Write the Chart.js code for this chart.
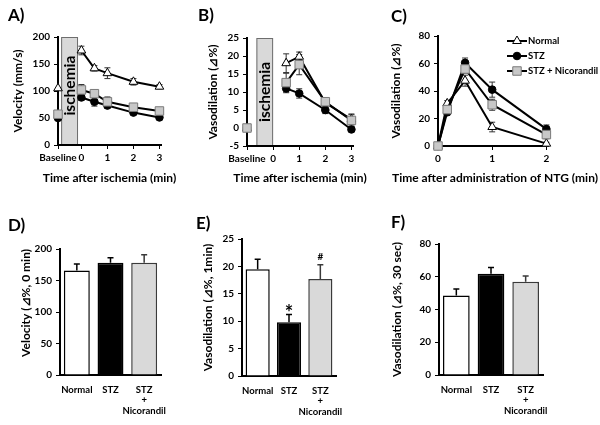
<!DOCTYPE html>
<html>
<head>
<meta charset="utf-8">
<script src="https://cdn.jsdelivr.net/npm/chart.js@4.4.1/dist/chart.umd.min.js"></script>
<style>
  body { margin: 0; background: #fff; }
  #fig { position: relative; width: 600px; height: 425px; overflow: hidden; background: #fff; }
  canvas { position: absolute; }
</style>
</head>
<body>
<div id="fig">
  <canvas id="panel-a" width="195" height="200" style="left:0;top:0"></canvas>
  <canvas id="panel-b" width="200" height="200" style="left:195px;top:0"></canvas>
  <canvas id="panel-c" width="215" height="200" style="left:385px;top:0"></canvas>
  <canvas id="panel-d" width="195" height="215" style="left:0;top:210px"></canvas>
  <canvas id="panel-e" width="200" height="215" style="left:195px;top:210px"></canvas>
  <canvas id="panel-f" width="215" height="215" style="left:385px;top:210px"></canvas>
</div>
<script>
const groups = ['Normal', 'STZ', 'STZ + Nicorandil'];
const barLabels = ['Normal', 'STZ', ['STZ', '+', 'Nicorandil']];

// A) velocity after ischemia (mm/s)
const aTimes = ['Baseline', 0, 0.5, 1, 2, 3];
const aNormal = [105, 175, 142, 133, 117, 108];
const aNormalErr = [0, 8, 5, 10, 6, 4];
const aStz = [50, 88, 80, 73, 60, 51];
const aStzErr = [4, 5, 8, 5, 4, 3];
const aNic = [57, 102, 95, 80, 70, 63];
const aNicErr = [4, 10, 6, 9, 5, 4];

// B) vasodilation after ischemia (%)
const bTimes = ['Baseline', 0.5, 1, 2, 3];
const bNormal = [0, 18, 19.8, 7, 2.4];
const bNormalErr = [0, 2.6, 1.3, 1, 1.5];
const bStz = [0, 11, 9.6, 5, -0.4];
const bStzErr = [0, 1.2, 1.3, 1, 0.6];
const bNic = [0, 12.6, 17.6, 7.3, 2.1];
const bNicErr = [0, 2.6, 2.8, 1, 1.6];

// C) vasodilation after NTG (%)
const cTimes = [0, 0.17, 0.5, 1, 2];
const cNormal = [0, 31, 47.5, 13.8, 1.7];
const cNormalErr = [0, 2, 4, 3.5, 1];
const cStz = [0, 24.5, 60.5, 41, 12.3];
const cStzErr = [0, 2, 3.5, 5.5, 3];
const cNic = [0, 26.5, 56, 30, 8.3];
const cNicErr = [0, 2, 3, 4, 3];

// D) velocity at 0 min
const dValues = [166, 178, 178];
const dErrors = [10, 8, 13];

// E) vasodilation at 1 min
const eValues = [19.5, 9.8, 17.7];
const eErrors = [1.8, 1.4, 2.6];
const eMarks = ['', '*', '#'];

// F) vasodilation at 30 sec
const fValues = [48.5, 61.8, 57];
const fErrors = [4, 3.8, 3.5];

const FONT = 'Lato';
Chart.defaults.font.family = FONT;
Chart.defaults.font.weight = 'bold';
Chart.defaults.color = '#000';

const markers = [
  { pointStyle: 'triangle', pointRadius: 5, pointBackgroundColor: '#fff', pointBorderColor: '#000', pointBorderWidth: 1 },
  { pointStyle: 'circle', pointRadius: 3.8, pointBackgroundColor: '#000', pointBorderColor: '#000', pointBorderWidth: 1 },
  { pointStyle: 'rect', pointRadius: 6, pointBackgroundColor: '#c8c8c8', pointBorderColor: '#7a7a7a', pointBorderWidth: 1 }
];
const barFill = ['#ffffff', '#000000', '#d9d9d9'];
const barEdge = ['#000000', '#000000', '#3a3a3a'];

// turn a time list into points; the baseline point is cut off from the rest of the line
function points(times, values, errors, base) {
  const pts = [];
  times.forEach((t, i) => {
    if (t === 'Baseline') {
      pts.push({ x: base, y: values[i], err: errors[i] });
      pts.push({ x: base + 0.01, y: null });
    } else {
      pts.push({ x: t, y: values[i], err: errors[i] });
    }
  });
  return pts;
}

function lineSets(times, series, base) {
  return series.map((s, i) => Object.assign({
    label: groups[i],
    data: points(times, s[0], s[1], base),
    borderColor: '#000',
    borderWidth: 2,
    tension: 0,
    spanGaps: false,
    clip: false,
    order: 2 - i
  }, markers[i]));
}

function valueAxis(min, max, step, width, title, titlePad, align) {
  return {
    min: min, max: max,
    ticks: { stepSize: step, padding: 4, font: { size: 10 } },
    grid: { drawOnChartArea: false, tickLength: 4, color: '#000' },
    border: { color: '#000', width: 2 },
    title: { display: true, text: title, align: align || 'center', font: { size: 12 }, padding: { top: titlePad, bottom: 0 } },
    afterFit: s => { s.width = width; }
  };
}

// the x caption is drawn by wideCaption, Chart.js would squeeze it to the axis width
function timeAxis(min, max, times, base, height) {
  return {
    type: 'linear', min: min, max: max,
    afterBuildTicks: s => { s.ticks = times.filter(t => t === 'Baseline' || Number.isInteger(t)).map(t => ({ value: t === 'Baseline' ? base : t })); },
    ticks: { autoSkip: false, maxRotation: 0, padding: 3, font: { size: 10 }, callback: v => (v === base ? 'Baseline' : v) },
    grid: { drawOnChartArea: false, tickLength: 4, color: '#000' },
    border: { color: '#000', width: 2 },
    afterFit: s => { s.height = height; }
  };
}

function groupAxis(height) {
  return {
    grid: { display: false, drawTicks: false },
    border: { color: '#000', width: 2 },
    ticks: { padding: 9, autoSkip: false, maxRotation: 0, font: { size: 9.5, lineHeight: 1.15 } },
    afterFit: s => { s.height = height; }
  };
}

function options(pad, x, y, plugins) {
  return {
    responsive: false,
    animation: false,
    layout: { padding: { top: pad[0], right: pad[1], bottom: 0, left: 0 } },
    scales: { x: x, y: y },
    plugins: Object.assign({ legend: { display: false }, tooltip: { enabled: false } }, plugins)
  };
}

function barSet(values, errors) {
  return [{
    data: values,
    errors: errors,
    backgroundColor: barFill,
    borderColor: barEdge,
    borderWidth: 1.5,
    barPercentage: 0.77,
    categoryPercentage: 1
  }];
}

// grey ischemia block between baseline and 0 min
const ischemiaBox = {
  id: 'ischemia',
  beforeDraw(chart, args, opts) {
    if (opts.from === undefined) return;
    const { ctx, chartArea, scales } = chart;
    const left = scales.x.getPixelForValue(opts.from);
    const right = scales.x.getPixelForValue(opts.to);
    ctx.save();
    ctx.fillStyle = '#d9d9d9';
    ctx.strokeStyle = '#6e6e6e';
    ctx.lineWidth = 1;
    ctx.fillRect(left, chartArea.top, right - left, chartArea.bottom - chartArea.top);
    ctx.strokeRect(left + 0.5, chartArea.top + 0.5, right - left - 1, chartArea.bottom - chartArea.top);
    ctx.translate((left + right) / 2, scales.y.getPixelForValue(opts.labelAt));
    ctx.rotate(-Math.PI / 2);
    ctx.fillStyle = '#000';
    ctx.font = 'bold 15.5px ' + FONT;
    ctx.textAlign = 'center';
    ctx.textBaseline = 'middle';
    ctx.fillText(opts.text, 0, 0);
    ctx.restore();
  }
};

function drawErrors(chart) {
  const ctx = chart.ctx;
  const yScale = chart.scales.y;
  const isBar = chart.config.type === 'bar';
  chart.data.datasets.forEach((ds, di) => {
    chart.getDatasetMeta(di).data.forEach((el, i) => {
      const raw = ds.data[i];
      const value = isBar ? raw : raw.y;
      const err = isBar ? ds.errors[i] : raw.err;
      if (value == null || !err) return;
      const top = yScale.getPixelForValue(value + err);
      const bottom = isBar ? el.y : yScale.getPixelForValue(value - err);
      const cap = 3;
      ctx.save();
      ctx.strokeStyle = isBar ? ds.borderColor[i] : '#333';
      ctx.lineWidth = isBar ? 1.5 : 1;
      ctx.beginPath();
      ctx.moveTo(el.x, bottom);
      ctx.lineTo(el.x, top);
      ctx.moveTo(el.x - cap, top);
      ctx.lineTo(el.x + cap, top);
      if (!isBar) {
        ctx.moveTo(el.x - cap, bottom);
        ctx.lineTo(el.x + cap, bottom);
      }
      ctx.stroke();
      ctx.restore();
    });
  });
}

const errorBars = {
  id: 'errorBars',
  beforeDatasetsDraw(chart) { if (chart.config.type === 'line') drawErrors(chart); },
  afterDatasetsDraw(chart) { if (chart.config.type === 'bar') drawErrors(chart); }
};

// * and # above the bars in E
const sigMarks = {
  id: 'sigMarks',
  afterDatasetsDraw(chart, args, opts) {
    if (!opts.marks) return;
    const ctx = chart.ctx;
    const ds = chart.data.datasets[0];
    chart.getDatasetMeta(0).data.forEach((el, i) => {
      const mark = opts.marks[i];
      if (!mark) return;
      const top = chart.scales.y.getPixelForValue(ds.data[i] + ds.errors[i]);
      ctx.save();
      ctx.fillStyle = '#000';
      ctx.textAlign = 'center';
      ctx.textBaseline = 'alphabetic';
      if (mark === '*') {
        ctx.font = 'bold 20px ' + FONT;
        ctx.fillText(mark, el.x, top + 5);
      } else {
        ctx.font = 'bold 10px ' + FONT;
        ctx.fillText(mark, el.x, top - 5);
      }
      ctx.restore();
    });
  }
};

const insideLegend = {
  id: 'insideLegend',
  afterDraw(chart, args, opts) {
    if (opts.x === undefined) return;
    const ctx = chart.ctx;
    chart.data.datasets.forEach((ds, i) => {
      const y = opts.y + i * opts.gap;
      ctx.save();
      ctx.strokeStyle = '#000';
      ctx.lineWidth = 2;
      ctx.beginPath();
      ctx.moveTo(opts.x, y);
      ctx.lineTo(opts.x + 20, y);
      ctx.stroke();
      ctx.fillStyle = ds.pointBackgroundColor;
      ctx.strokeStyle = ds.pointBorderColor;
      ctx.lineWidth = ds.pointBorderWidth;
      Chart.helpers.drawPoint(ctx, { pointStyle: ds.pointStyle, radius: ds.pointRadius, rotation: 0, borderWidth: ds.pointBorderWidth }, opts.x + 10, y);
      ctx.fillStyle = '#000';
      ctx.font = 'bold 9.5px ' + FONT;
      ctx.textBaseline = 'middle';
      ctx.fillText(ds.label, opts.x + 21, y);
      ctx.restore();
    });
  }
};

const wideCaption = {
  id: 'wideCaption',
  afterDraw(chart, args, opts) {
    if (!opts.text) return;
    const ctx = chart.ctx;
    const area = chart.chartArea;
    ctx.save();
    ctx.fillStyle = '#000';
    ctx.font = 'bold 12px ' + FONT;
    ctx.textAlign = 'center';
    ctx.textBaseline = 'middle';
    ctx.fillText(opts.text, (area.left + area.right) / 2 + (opts.shift || 0), opts.y);
    ctx.restore();
  }
};

const panelLetter = {
  id: 'panelLetter',
  afterDraw(chart, args, opts) {
    if (!opts.text) return;
    const ctx = chart.ctx;
    ctx.save();
    ctx.fillStyle = '#000';
    ctx.font = 'bold 17px ' + FONT;
    ctx.textBaseline = 'middle';
    ctx.fillText(opts.text, opts.x, opts.y);
    ctx.restore();
  }
};

Chart.register(ischemiaBox, errorBars, sigMarks, insideLegend, wideCaption, panelLetter);

new Chart(document.getElementById('panel-a'), {
  type: 'line',
  data: { datasets: lineSets(aTimes, [[aNormal, aNormalErr], [aStz, aStzErr], [aNic, aNicErr]], -0.9) },
  options: options([37, 34],
    timeAxis(-0.9, 3.06, aTimes, -0.9, 55),
    valueAxis(0, 200, 50, 58, 'Velocity (mm/s)', 11),
    { panelLetter: { text: 'A)', x: 8, y: 16 }, ischemia: { from: -0.78, to: -0.13, labelAt: 110, text: 'ischemia' },
      wideCaption: { text: 'Time after ischemia (min)', y: 178 } })
});

new Chart(document.getElementById('panel-b'), {
  type: 'line',
  data: { datasets: lineSets(bTimes, [[bNormal, bNormalErr], [bStz, bStzErr], [bNic, bNicErr]], -1) },
  options: options([38, 42],
    timeAxis(-1, 3.06, ['Baseline', 0, 1, 2, 3], -1, 54),
    valueAxis(-5, 25, 5, 52, 'Vasodilation (⊿%)', 11),
    { panelLetter: { text: 'B)', x: 3, y: 16 }, ischemia: { from: -0.64, to: 0, labelAt: 10, text: 'ischemia' },
      wideCaption: { text: 'Time after ischemia (min)', y: 178 } })
});

new Chart(document.getElementById('panel-c'), {
  type: 'line',
  data: { datasets: lineSets(cTimes, [[cNormal, cNormalErr], [cStz, cStzErr], [cNic, cNicErr]]) },
  options: options([36, 52],
    timeAxis(0, 2.03, cTimes, undefined, 54),
    valueAxis(0, 80, 20, 53, 'Vasodilation (⊿%)', 4),
    { panelLetter: { text: 'C)', x: 6, y: 17 }, insideLegend: { x: 122, y: 41, gap: 15 },
      wideCaption: { text: 'Time after administration of NTG (min)', y: 178, shift: 2 } })
});

new Chart(document.getElementById('panel-d'), {
  type: 'bar',
  data: { labels: barLabels, datasets: barSet(dValues, dErrors) },
  options: options([39, 34], groupAxis(50),
    valueAxis(0, 200, 50, 60, 'Velocity (⊿%, 0 min)', 19, 'end'),
    { panelLetter: { text: 'D)', x: 8, y: 16 } })
});

new Chart(document.getElementById('panel-e'), {
  type: 'bar',
  data: { labels: barLabels, datasets: barSet(eValues, eErrors) },
  options: options([29, 59], groupAxis(49),
    valueAxis(0, 25, 5, 47, 'Vasodilation (⊿%, 1min)', 6),
    { panelLetter: { text: 'E)', x: 1, y: 14 }, sigMarks: { marks: eMarks } })
});

new Chart(document.getElementById('panel-f'), {
  type: 'bar',
  data: { labels: barLabels, datasets: barSet(fValues, fErrors) },
  options: options([34, 57], groupAxis(50),
    valueAxis(0, 80, 20, 54, 'Vasodilation (⊿%, 30 sec)', 4.5),
    { panelLetter: { text: 'F)', x: 6, y: 13 } })
});
</script>
</body>
</html>
